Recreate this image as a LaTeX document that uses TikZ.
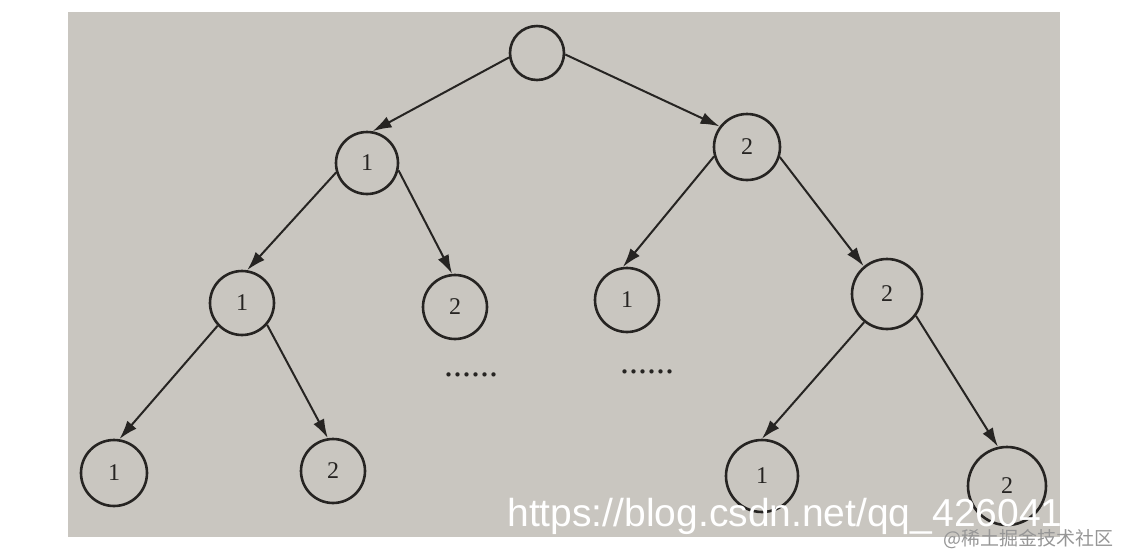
\documentclass[tikz,border=0pt]{standalone}
\usepackage{fontspec}
\setmainfont{Liberation Serif}
\newfontfamily\urlfont{Liberation Sans}
\newfontfamily\cjkfont{Noto Sans CJK SC}
\usetikzlibrary{arrows.meta}
\definecolor{paper}{RGB}{201,198,192}
\definecolor{ink}{RGB}{38,36,34}
\definecolor{markgray}{RGB}{150,150,150}

\begin{document}
\begin{tikzpicture}[x=0.5pt,y=-0.5pt,
	vertex/.style={draw=ink,line width=1.3pt,circle,inner sep=0pt,text=ink,font=\fontsize{12}{14}\selectfont},
	edge/.style={draw=ink,line width=1pt,-{Latex[length=9.5pt,width=6pt]}},
	dotrow/.style={text=ink,inner sep=0pt,font=\fontsize{18}{20}\selectfont}]
	\useasboundingbox (0,0) rectangle (1121,548);
	\fill[paper] (68,12) rectangle (1060,537);
	
	\node[vertex,minimum size=27pt] (root) at (537,53) {};
	\node[vertex,minimum size=31pt] (n1) at (367,163) {1};
	\node[vertex,minimum size=33pt] (n2) at (747,147) {2};
	\node[vertex,minimum size=32pt] (n11) at (242,303) {1};
	\node[vertex,minimum size=32pt] (n12) at (455,307) {2};
	\node[vertex,minimum size=32pt] (n21) at (627,300) {1};
	\node[vertex,minimum size=35pt] (n22) at (887,294) {2};
	\node[vertex,minimum size=33pt] (n111) at (114,473) {1};
	\node[vertex,minimum size=32pt] (n112) at (333,471) {2};
	\node[vertex,minimum size=36pt] (n221) at (762,476) {1};
	\node[vertex,minimum size=39pt] (n222) at (1007,486) {2};
	
	\node[dotrow] (dotsl) at (471,375) {......};
	\node[dotrow] (dotsr) at (647,372) {......};
	
	\draw[edge] (root.189) -- (n1.80);
	\draw[edge] (root.357) -- (n2.143);
	\draw[edge] (n1.197) -- (n11.81);
	\draw[edge] (n1.347) -- (n12.95);
	\draw[edge] (n2.196) -- (n21.97);
	\draw[edge] (n2.343) -- (n22.130);
	\draw[edge] (n11.223) -- (n111.81);
	\draw[edge] (n11.319) -- (n112.99);
	\draw[edge] (n22.231) -- (n221.90);
	\draw[edge] (n22.323) -- (n222.103);
	
	\node[anchor=base west,inner sep=0pt,text=white] (url) at (507,526)
		{\urlfont\fontsize{19.5}{23}\selectfont https://blog.csdn.net/qq\_426041};
	\node[anchor=base east,inner sep=0pt,text=markgray] (mark) at (1114,545)
		{\cjkfont\fontsize{9.5}{11}\selectfont @稀土掘金技术社区};
	
\end{tikzpicture}
\end{document}
